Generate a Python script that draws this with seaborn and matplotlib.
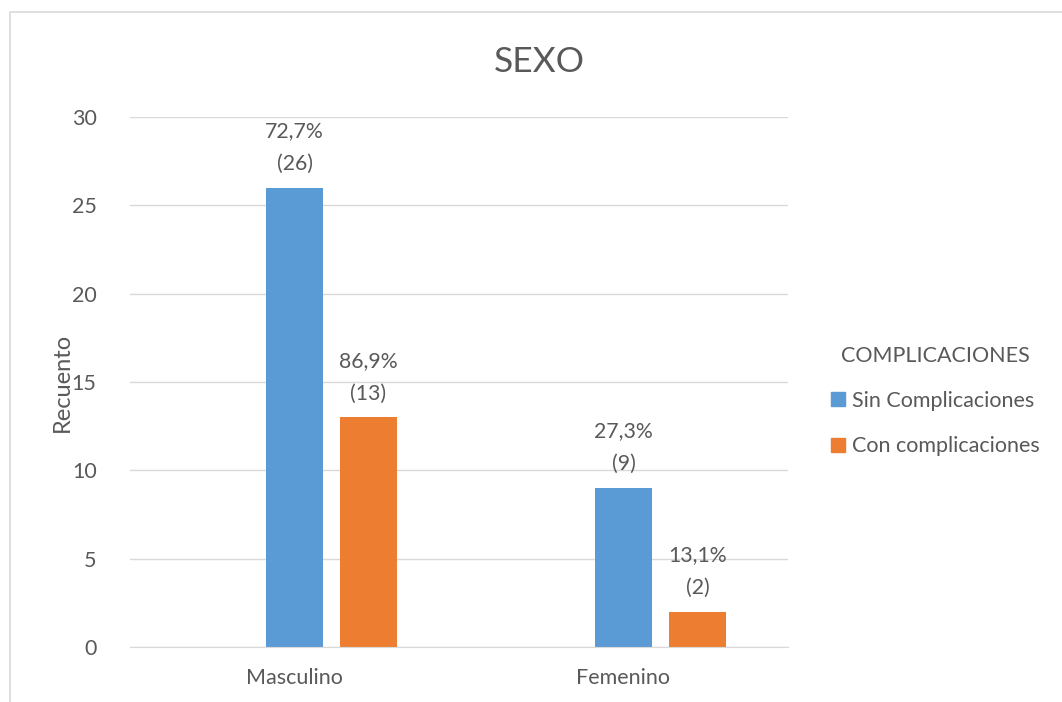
import matplotlib
matplotlib.use("Agg")
import matplotlib.pyplot as plt
from matplotlib.patches import Rectangle, Patch
import pandas as pd
import seaborn as sns

# datos
categorias = ["Masculino", "Femenino"]
series = ["Sin Complicaciones", "Con complicaciones"]
sin_compl = [26, 9]
con_compl = [13, 2]
pct_sin = ["72,7%", "27,3%"]
pct_con = ["86,9%", "13,1%"]

azul = "#5B9BD5"
naranja = "#ED7D31"
gris = "#595959"

sns.set_style("white")
plt.rcParams["font.family"] = ["Lato", "DejaVu Sans"]

filas = []
for i, c in enumerate(categorias):
    filas.append({"SEXO": c, "grupo": "_vacio", "n": 0})
    filas.append({"SEXO": c, "grupo": series[0], "n": sin_compl[i]})
    filas.append({"SEXO": c, "grupo": series[1], "n": con_compl[i]})
df = pd.DataFrame(filas)

fig = plt.figure(figsize=(10.62, 7.02), dpi=100)
ax = fig.add_axes([130 / 1062, 1 - 647 / 702, 658 / 1062, 530 / 702])

sns.barplot(data=df, x="SEXO", y="n", hue="grupo",
            hue_order=["_vacio"] + series, order=categorias,
            palette={"_vacio": "white", series[0]: azul, series[1]: naranja},
            saturation=1, width=0.675, gap=0.23, linewidth=0, errorbar=None,
            legend=False, ax=ax)

# etiquetas de datos
etiquetas = {1: [f"{p}\n({v})" for p, v in zip(pct_sin, sin_compl)],
             2: [f"{p}\n({v})" for p, v in zip(pct_con, con_compl)]}
for k, labs in etiquetas.items():
    ax.bar_label(ax.containers[k], labels=labs, padding=10, fontsize=15.3,
                 color=gris, linespacing=1.8)

ax.set_xlim(-0.5, 1.5)
ax.set_ylim(0, 30)
ax.set_yticks(range(0, 31, 5))
ax.grid(axis="y", color="#D9D9D9", linewidth=1)
ax.set_axisbelow(True)
for s in ["top", "right", "left"]:
    ax.spines[s].set_visible(False)
ax.spines["bottom"].set_color("#D9D9D9")
ax.tick_params(axis="y", length=0, pad=24, labelsize=15.5, labelcolor=gris)
ax.tick_params(axis="x", length=0, pad=15, labelsize=15.5, labelcolor=gris)
ax.set_xlabel("")
ax.set_ylabel("Recuento", fontsize=17, color=gris, labelpad=-1)

fig.text(539 / 1062, 1 - 62 / 702, "SEXO", ha="center", va="center",
         fontsize=25.5, color=gris)

# leyenda a mano
handles = [Patch(color=azul, label=series[0]), Patch(color=naranja, label=series[1])]
leg = fig.legend(handles=handles, title="COMPLICACIONES", loc="center left",
                 bbox_to_anchor=(812 / 1062, 1 - 401 / 702), frameon=False,
                 fontsize=15.5, title_fontsize=15.5, labelcolor=gris,
                 handlelength=0.65, handleheight=0.65, handletextpad=0.3,
                 labelspacing=1.2)
leg.get_title().set_color(gris)
leg._legend_box.align = "center"
leg._legend_box.sep = 18

# marco del grafico
fig.patches.append(Rectangle((10 / 1062, -0.1), 1.1, 1.1 - 12 / 702,
                             transform=fig.transFigure, fill=False,
                             edgecolor="#D9D9D9", linewidth=1.2))

fig.savefig("out.png", dpi=100)
